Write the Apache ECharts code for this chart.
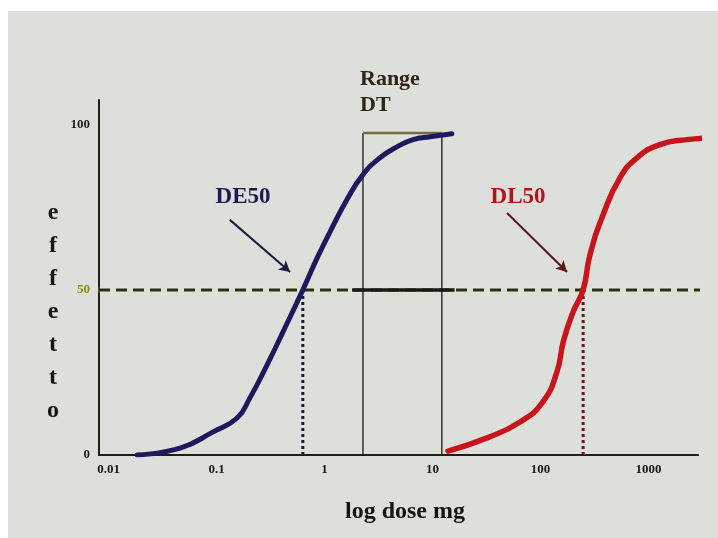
<!DOCTYPE html>
<html lang="it">

<head>
    <meta charset="UTF-8">
    <title>DE50 / DL50</title>
    <script src="https://cdn.jsdelivr.net/npm/echarts@6/dist/echarts.min.js"></script>
    <style>
        html, body { margin: 0; padding: 0; background: #fff; }
        #chart { width: 718px; height: 538px; }
    </style>
</head>

<body>
    <div id="chart"></div>
    <script>
        // tick labels
        var xTicks = [0.01, 0.1, 1, 10, 100, 1000];
        var yTicks = [0, 50, 100];

        // curva efficacia (DE) - dose mg / effetto %
        var deDose = [0.0184, 0.046, 0.093, 0.155, 0.204, 0.294, 0.413, 0.63, 0.853, 1.125, 1.61, 2.27, 3.26, 4.69, 6.6, 9.5, 15.1];
        var deEffect = [0, 2.1, 7, 11.2, 17.3, 27.3, 37.3, 50, 59.6, 67.6, 77.3, 84.9, 90, 93.3, 95.5, 96.4, 97.3];

        // curva letale (DL)
        var dlDose = [13.9, 32, 64.6, 105, 142, 163, 200, 248, 287, 379, 545, 783, 1277, 2270, 3950];
        var dlEffect = [1.2, 5.2, 10, 16.1, 25.2, 34.5, 43.3, 50, 60.6, 72.7, 84, 90, 94, 95.5, 96.1];

        var de50 = 0.63;
        var dl50 = 248;
        var rangeDT = [2.27, 12.2];   // range terapeutico
        var level50 = 50;
        var rangeTop = 97.5;

        var lg = Math.log10;
        var xMin = -2.088, xMax = 3.458;
        var serif = '"Liberation Serif", "DejaVu Serif", serif';

        function pts(dose, eff) {
            return dose.map(function (d, i) { return [lg(d), eff[i]]; });
        }

        var chart = echarts.init(document.getElementById('chart'));
        chart.setOption({
            backgroundColor: '#ffffff',
            animation: false,
            grid: { left: 99, top: 100, right: 20, bottom: 83 },
            xAxis: {
                type: 'value',
                min: xMin,
                max: xMax,
                splitLine: { show: false },
                axisTick: { show: false },
                axisLine: { onZero: false, lineStyle: { color: '#241c14', width: 2 } },
                axisLabel: {
                    customValues: xTicks.map(lg),
                    formatter: function (v) { return String(Math.round(Math.pow(10, v) * 100) / 100); },
                    fontFamily: serif, fontWeight: 'bold', fontSize: 13, color: '#1a1a1a', margin: 8
                }
            },
            yAxis: {
                type: 'value',
                min: 0,
                max: 107.5,
                splitLine: { show: false },
                axisTick: { show: false },
                axisLine: { onZero: false, lineStyle: { color: '#241c14', width: 2 } },
                axisLabel: {
                    customValues: yTicks,
                    fontFamily: serif, fontWeight: 'bold', fontSize: 13, margin: 9,
                    color: function (v) { return v == 50 ? '#8c8c12' : '#1a1a1a'; }
                }
            },
            graphic: [
                { type: 'rect', z: -10, shape: { x: 8, y: 11, width: 710, height: 527 }, style: { fill: '#dddfdb' } },
                { type: 'text', left: 360, top: 66, style: { text: 'Range\nDT', font: 'bold 22px ' + serif, fill: '#2e2418', lineHeight: 26 } },
                { type: 'text', x: 53, y: 196, style: { text: 'e\nf\nf\ne\nt\nt\no', font: 'bold 24px ' + serif, fill: '#151515', lineHeight: 33, align: 'center' } },
                { type: 'text', x: 405, y: 512, style: { text: 'log dose mg', font: 'bold 24px ' + serif, fill: '#151515', align: 'center', verticalAlign: 'middle' } },
                { type: 'text', x: 243, y: 197, style: { text: 'DE50', font: 'bold 23px ' + serif, fill: '#1b1a55', align: 'center', verticalAlign: 'middle' } },
                { type: 'text', x: 518, y: 197, style: { text: 'DL50', font: 'bold 23px ' + serif, fill: '#b3141c', align: 'center', verticalAlign: 'middle' } }
            ],
            series: [
                {
                    name: 'livello 50', type: 'line', clip: false, symbol: 'none', z: 2, silent: true,
                    data: [[xMin, level50], [3.52, level50]],
                    lineStyle: { color: '#22321c', width: 3, type: [11, 6], shadowColor: 'rgba(245,245,160,0.9)', shadowBlur: 3 }
                },
                {
                    name: 'range mid', type: 'line', symbol: 'none', z: 6, silent: true,
                    data: [[lg(1.8), level50], [lg(16), level50]],
                    lineStyle: { color: '#1a1a14', width: 3.5, type: 'solid' }
                },
                {
                    name: 'range sx', type: 'line', symbol: 'none', z: 3, silent: true,
                    data: [[lg(rangeDT[0]), 0], [lg(rangeDT[0]), rangeTop]],
                    lineStyle: { color: '#151515', width: 1.3 }
                },
                {
                    name: 'range dx', type: 'line', symbol: 'none', z: 3, silent: true,
                    data: [[lg(rangeDT[1]), 0], [lg(rangeDT[1]), rangeTop]],
                    lineStyle: { color: '#151515', width: 1.3 }
                },
                {
                    name: 'range top', type: 'line', symbol: 'none', z: 3, silent: true,
                    data: [[lg(rangeDT[0]), rangeTop], [lg(rangeDT[1]), rangeTop]],
                    lineStyle: { color: '#7a6a42', width: 2.5 }
                },
                {
                    name: 'DE50 dot', type: 'line', symbol: 'none', z: 4, silent: true,
                    data: [[lg(de50), 0], [lg(de50), level50]],
                    lineStyle: { color: '#1a1a40', width: 3, type: [3, 3] }
                },
                {
                    name: 'DL50 dot', type: 'line', symbol: 'none', z: 4, silent: true,
                    data: [[lg(dl50), 0], [lg(dl50), level50]],
                    lineStyle: { color: '#6b1515', width: 3, type: [3, 3] }
                },
                {
                    name: 'DE', type: 'line', symbol: 'none', z: 5, smooth: 0.5,
                    data: pts(deDose, deEffect),
                    lineStyle: { color: '#1c1a5c', width: 5, cap: 'round' },
                    markLine: {
                        silent: true, symbol: ['none', 'arrow'], symbolSize: [9, 11],
                        label: { show: false },
                        lineStyle: { color: '#1b1b3b', width: 2, type: 'solid' },
                        data: [[{ coord: [lg(0.133), 71.2] }, { coord: [lg(0.48), 55.4] }]]
                    }
                },
                {
                    name: 'DL', type: 'line', symbol: 'none', z: 5, smooth: 0.5, clip: false,
                    data: pts(dlDose, dlEffect),
                    lineStyle: { color: '#c8151b', width: 5.5, cap: 'round' },
                    markLine: {
                        silent: true, symbol: ['none', 'arrow'], symbolSize: [9, 11],
                        label: { show: false },
                        lineStyle: { color: '#5c1616', width: 2, type: 'solid' },
                        data: [[{ coord: [lg(49), 73.3] }, { coord: [lg(176), 55.4] }]]
                    }
                }
            ]
        });
    </script>
</body>

</html>
